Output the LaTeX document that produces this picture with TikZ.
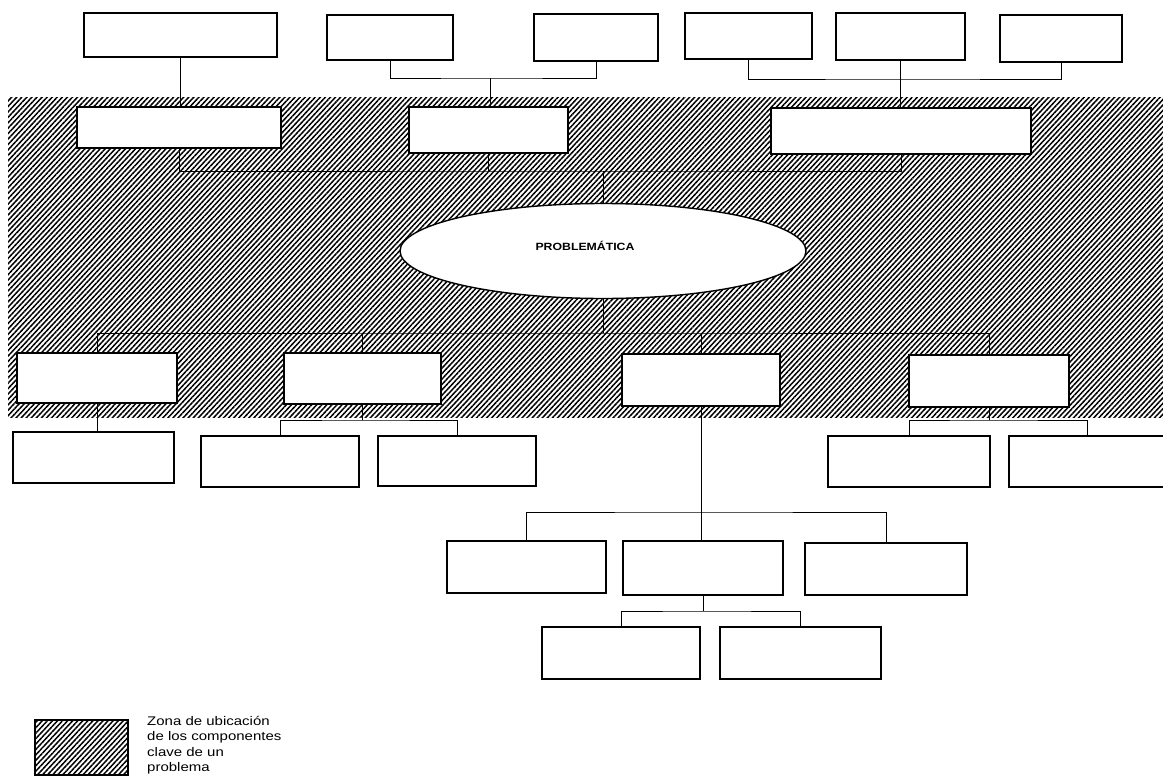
\documentclass[tikz,border=0pt]{standalone}
\usepackage{fontspec}
\setmainfont{Liberation Sans}
\usepackage{graphicx}
\usetikzlibrary{shapes.geometric,fit,patterns.meta}
\tikzset{
  boxst/.style={draw=black, line width=1.6pt, fill=white, inner sep=0pt, outer sep=0pt},
  conn/.style={draw=black, line width=0.9pt},
  hatch/.style={pattern={Lines[angle=47,distance=3.7pt,line width=1.5pt]}},
}
\begin{document}
\begin{tikzpicture}[x=1pt,y=-1pt]
\useasboundingbox (0,0) rectangle (1163,777);
\clip (0,0) rectangle (1163,777);
% hatched zone
\fill[hatch] (8,97) rectangle (1163,417);
% top row
\node[boxst, fit={(84,13)(277,57)}] (t1) {};
\node[boxst, fit={(327,15)(453,60)}] (t2) {};
\node[boxst, fit={(534,14)(658,61)}] (t3) {};
\node[boxst, fit={(685,13)(812,59)}] (t4) {};
\node[boxst, fit={(836,13)(965,60)}] (t5) {};
\node[boxst, fit={(1000,15)(1122,62)}] (t6) {};
% hatched row
\node[boxst, fit={(77,107)(281,148)}] (h1) {};
\node[boxst, fit={(409,107)(568,153)}] (h2) {};
\node[boxst, fit={(771,108)(1031,154)}] (h3) {};
% central ellipse
\node[boxst, line width=1.4pt, ellipse, minimum width=406, minimum height=95] (el) at (603,251) {};
\node (eltext) at (585,245.5) {\scalebox{1.17}[1]{\fontsize{10.5}{12}\selectfont\bfseries PROBLEMÁTICA}};
% second row
\node[boxst, fit={(17,353)(177,403)}] (b1) {};
\node[boxst, fit={(284,353)(441,404)}] (b2) {};
\node[boxst, fit={(622,354)(780,406)}] (b3) {};
\node[boxst, fit={(909,355)(1069,407)}] (b4) {};
% third row
\node[boxst, fit={(13,432)(174,483)}] (c1) {};
\node[boxst, fit={(201,436)(359,487)}] (c2) {};
\node[boxst, fit={(378,436)(536,486)}] (c3) {};
\node[boxst, fit={(828,436)(990,487)}] (c4) {};
\node[boxst, fit={(1009,436)(1165,487)}] (c5) {};
% fourth row
\node[boxst, fit={(447,541)(606,593)}] (d1) {};
\node[boxst, fit={(623,541)(783,595)}] (d2) {};
\node[boxst, fit={(805,543)(967,595)}] (d3) {};
% fifth row
\node[boxst, fit={(542,627)(700,679)}] (e1) {};
\node[boxst, fit={(720,627)(881,679)}] (e2) {};
% junctions
\coordinate (j23) at (490,78);
\coordinate (j456) at (t5.south |- 0,79);
\coordinate (jh) at (603,171);
\coordinate (jb) at (603,333);
\coordinate (jc2) at (b2.south |- 0,420);
\coordinate (jc4) at (b4.south |- 0,420);
\coordinate (jd) at (b3.south |- 0,512);
\coordinate (je) at (d2.south |- 0,611);
% connectors
\draw[conn] (t1.south) -- (t1.south |- h1.north);
\draw[conn] (t2.south) |- (j23) -| (t3.south);
\draw[conn] (j23) -- (j23 |- h2.north);
\draw[conn] (t4.south) |- (j456) -| (t6.south);
\draw[conn] (t5.south) -- (t5.south |- h3.north);
\draw[conn] (h1.south) |- (jh) -| (h3.south);
\draw[conn] (h2.south) -- (h2.south |- jh);
\draw[conn] (jh) -- (el.north);
\draw[conn] (el.south) -- (jb);
\draw[conn] (b1.north) |- (jb) -| (b4.north);
\draw[conn] (b2.north) -- (b2.north |- jb);
\draw[conn] (b3.north) -- (b3.north |- jb);
\draw[conn] (b1.south) -- (b1.south |- c1.north);
\draw[conn] (b2.south) -- (jc2);
\draw[conn] (c2.north) |- (jc2) -| (c3.north);
\draw[conn] (b4.south) -- (jc4);
\draw[conn] (c4.north) |- (jc4) -| (c5.north);
\draw[conn] (b3.south) -- (jd);
\draw[conn] (jd) -- (jd |- d2.north);
\draw[conn] (d1.north) |- (jd) -| (d3.north);
\draw[conn] (d2.south) -- (je);
\draw[conn] (e1.north) |- (je) -| (e2.north);
% legend
\node[boxst, fill=none, fit={(35,720)(128,775)}] (leg) {};
\fill[hatch] (leg.south west) rectangle (leg.north east);
\node[anchor=north west, inner sep=0pt] (legtext) at (147,714)
  {\scalebox{1.2}[1]{\fontsize{12.5}{15.5}\selectfont
   \begin{tabular}{@{}l@{}}Zona de ubicación\\de los componentes\\clave de un\\problema\end{tabular}}};
\end{tikzpicture}
\end{document}
